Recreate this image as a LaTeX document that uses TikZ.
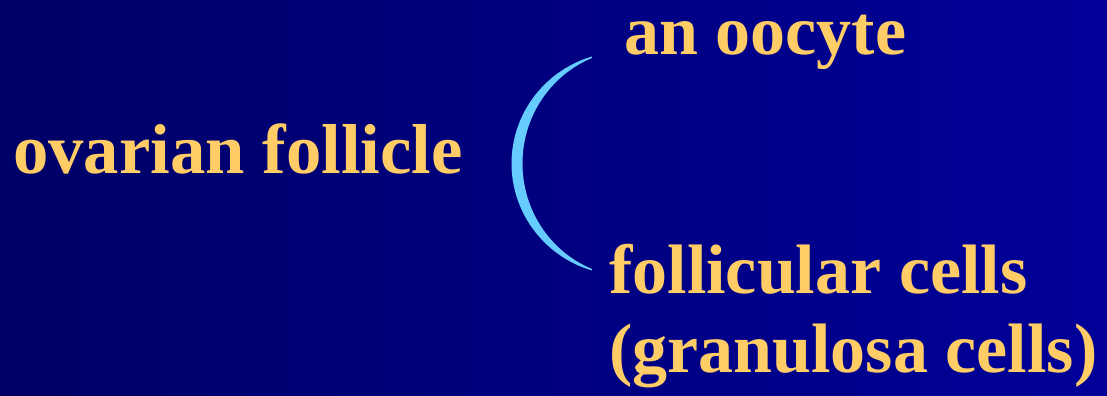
\documentclass[tikz,border=0pt]{standalone}
\usepackage{fontspec}
\setmainfont{Liberation Serif}
\usepackage{xcolor}
\usetikzlibrary{positioning}
\definecolor{SlideDark}{HTML}{000066}
\definecolor{SlideLight}{HTML}{000099}
\definecolor{TextGold}{HTML}{FFCC66}
\definecolor{BraceBlue}{HTML}{66CCFF}

\begin{document}
\begin{tikzpicture}[x=0.75pt, y=-0.75pt,
            term/.style={text=TextGold, inner sep=0pt, anchor=base west, align=left, font=\fontsize{53}{58.8}\selectfont\bfseries},
            part/.style={term, font=\fontsize{52.5}{58.8}\selectfont\bfseries}
        ]

            % background
            \fill[left color=SlideDark, right color=SlideLight] (0,0) rectangle (1107,396);
            \useasboundingbox (0,0) rectangle (1107,396);

            \node[term] (follicle) at (13,173) {ovarian follicle};
            \node[part] (oocyte) at (624,54) {an oocyte};
            % base of a two-line node is its last line
            \node[part] (cells) at (609,372) {follicular cells\\(granulosa cells)};

            % brace
            \fill[BraceBlue] (592,56.5) .. controls (544.5,70.5) and (511.5,114) .. (511.5,163.5)
                .. controls (511.5,213) and (544.5,256.5) .. (592,270.5)
                -- (592,269) .. controls (549.7,251.4) and (522.5,209.7) .. (522.5,163.5)
                .. controls (522.5,117.3) and (549.7,75.6) .. (592,58) -- cycle;

        \end{tikzpicture}
\end{document}
